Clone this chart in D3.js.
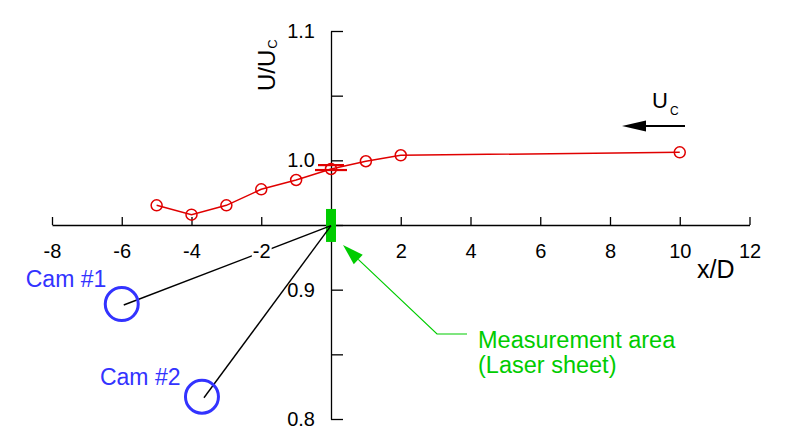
<!DOCTYPE html>
<html><head><meta charset="utf-8">
<script src="https://cdn.jsdelivr.net/npm/d3@7"></script>
<style>
body{margin:0;background:#fff;}
svg{display:block;font-family:"Liberation Sans",Arial,sans-serif;}
</style></head>
<body>
<svg id="c" width="788" height="446"></svg>
<script>
// ---- data ----
const xPositions = [-5, -4, -3, -2, -1, 0, 1, 2, 10];
const velocityRatio = [0.9652, 0.9580, 0.9652, 0.9776, 0.9848, 0.9933, 0.9993, 1.0039, 1.0062];
const errorBarX = [0];
const errorBarLow = [0.9925];
const errorBarHigh = [0.9963];
const xTickValues = [-8, -6, -4, -2, 0, 2, 4, 6, 8, 10, 12];
const xTickLabels = ["-8", "-6", "-4", "-2", "", "2", "4", "6", "8", "10", "12"];
const yTickValues = [0.8, 0.85, 0.9, 0.95, 1.0, 1.05, 1.1];
const yTickLabels = ["0.8", "", "0.9", "", "1.0", "", "1.1"];
const cameraNames = ["Cam #1", "Cam #2"];
const cameraX = [-6.0, -3.7];
const cameraY = [0.8889, 0.8172];
const focusX = [0];
const focusY = [0.9495];
const sheetX = [-0.143, 0.143];
const sheetY = [0.9369, 0.9624];
const annotationLines = ["Measurement area", "(Laser sheet)"];

// ---- setup ----
const svg = d3.select("#c");
const x = d3.scaleLinear().domain([-8, 12]).range([52, 749.5]);
const y = d3.scaleLinear().domain([0.8, 1.1]).range([419, 31]);
const RED = "#e00000", BLUE = "#3333ff", GREEN = "#00cc00";
const FONT = "Liberation Sans, Arial, sans-serif";
const axisY0 = y(0.95);

// x axis ticks (upward) and line
const xAxis = svg.append("g").attr("transform", `translate(0,${axisY0})`)
  .call(d3.axisBottom(x).tickValues(xTickValues).tickSizeInner(-8).tickSizeOuter(0).tickFormat(""));
xAxis.select(".domain").attr("stroke", "#000").attr("stroke-width", 1.3);
xAxis.selectAll(".tick line").attr("stroke", "#000").attr("stroke-width", 1.3);

// y axis ticks (rightward) and line
const yAxis = svg.append("g").attr("transform", `translate(${x(0)},0)`)
  .call(d3.axisLeft(y).tickValues(yTickValues).tickSizeInner(-12).tickSizeOuter(0).tickFormat(""));
yAxis.select(".domain").attr("stroke", "#000").attr("stroke-width", 1.3);
yAxis.selectAll(".tick line").attr("stroke", "#000").attr("stroke-width", 1.3);

// green measurement area
svg.append("rect")
  .attr("x", x(sheetX[0])).attr("y", y(sheetY[1]))
  .attr("width", x(sheetX[1]) - x(sheetX[0])).attr("height", y(sheetY[0]) - y(sheetY[1]))
  .attr("fill", GREEN);

// camera lines and circles
cameraNames.forEach((name, i) => {
  const cx = x(cameraX[i]), cy = y(cameraY[i]);
  svg.append("line").attr("x1", cx + 2).attr("y1", cy + 1)
    .attr("x2", x(focusX[0])).attr("y2", y(focusY[0]))
    .attr("stroke", "#000").attr("stroke-width", 1.4);
  svg.append("circle").attr("cx", cx).attr("cy", cy).attr("r", 16.5)
    .attr("fill", "none").attr("stroke", BLUE).attr("stroke-width", 3);
});
svg.append("text").attr("x", x(cameraX[0]) - 96).attr("y", y(cameraY[0]) - 17)
  .attr("fill", BLUE).attr("font-size", 23).text(cameraNames[0]);
svg.append("text").attr("x", x(cameraX[1]) - 102).attr("y", y(cameraY[1]) - 12)
  .attr("fill", BLUE).attr("font-size", 23).text(cameraNames[1]);

// x tick labels with white background (on top of camera lines)
const xLab = svg.append("g").attr("transform", `translate(0,${axisY0})`)
  .call(d3.axisBottom(x).tickValues(xTickValues).tickSize(0).tickPadding(19)
    .tickFormat((d, i) => xTickLabels[i]));
xLab.select(".domain").remove();
xLab.selectAll("text").attr("font-size", 20).attr("font-family", FONT).attr("fill", "#000");
xLab.selectAll(".tick").each(function(d, i) {
  if (!xTickLabels[i]) return;
  const t = d3.select(this).select("text").node();
  const b = t.getBBox();
  d3.select(this).insert("rect", "text").attr("x", b.x - 1).attr("y", b.y + 2)
    .attr("width", b.width + 2).attr("height", b.height - 4).attr("fill", "#fff");
});

// y tick labels
const yLab = svg.append("g").attr("transform", `translate(${x(0)},0)`)
  .call(d3.axisLeft(y).tickValues(yTickValues).tickSize(0).tickPadding(16)
    .tickFormat((d, i) => yTickLabels[i]));
yLab.select(".domain").remove();
yLab.selectAll("text").attr("font-size", 20).attr("font-family", FONT).attr("fill", "#000");

// axis titles
const yt = svg.append("text").attr("transform", "translate(275,91) rotate(-90)")
  .attr("font-size", 24).attr("fill", "#000");
yt.append("tspan").text("U/U");
yt.append("tspan").attr("font-size", 13).attr("dy", 2).attr("dx", 1).text("C");
svg.append("text").attr("x", 697).attr("y", 278).attr("font-size", 25).attr("fill", "#000").text("x/D");

// data line
const line = d3.line().x((d, i) => x(xPositions[i])).y(d => y(d));
svg.append("path").datum(velocityRatio).attr("d", line)
  .attr("fill", "none").attr("stroke", RED).attr("stroke-width", 1.5);

// error bar caps
errorBarX.forEach((ex, i) => {
  [[errorBarHigh[i], 13], [errorBarLow[i], 16]].forEach(([v, hw]) => {
    svg.append("line").attr("x1", x(ex) - hw).attr("x2", x(ex) + hw)
      .attr("y1", y(v)).attr("y2", y(v)).attr("stroke", RED).attr("stroke-width", 2.2);
  });
});

// markers
svg.append("g").selectAll("circle").data(velocityRatio).join("circle")
  .attr("cx", (d, i) => x(xPositions[i])).attr("cy", d => y(d)).attr("r", 5.5)
  .attr("fill", "none").attr("stroke", RED).attr("stroke-width", 1.5);

// U_C flow direction arrow
svg.append("line").attr("x1", 685).attr("y1", 126).attr("x2", 640).attr("y2", 126)
  .attr("stroke", "#000").attr("stroke-width", 2);
svg.append("path").attr("d", "M622,126 L646,120.5 L646,131.5 Z").attr("fill", "#000");
const ut = svg.append("text").attr("x", 652).attr("y", 108).attr("font-size", 22).attr("fill", "#000");
ut.append("tspan").text("U");
ut.append("tspan").attr("font-size", 12).attr("dy", 7).attr("dx", 2).text("C");

// measurement area annotation
const tip = [343, 245], elbow = [437, 334], endP = [467, 334];
const ang = Math.atan2(tip[1] - elbow[1], tip[0] - elbow[0]);
const hl = 21, hw = 6.5;
const bx = tip[0] - hl * Math.cos(ang), by = tip[1] - hl * Math.sin(ang);
svg.append("path").attr("d", `M${bx},${by} L${elbow[0]},${elbow[1]} L${endP[0]},${endP[1]}`)
  .attr("fill", "none").attr("stroke", GREEN).attr("stroke-width", 1.2);
svg.append("path").attr("d",
  `M${tip[0]},${tip[1]} L${bx + hw * Math.sin(ang)},${by - hw * Math.cos(ang)} L${bx - hw * Math.sin(ang)},${by + hw * Math.cos(ang)} Z`)
  .attr("fill", GREEN);
svg.append("text").attr("x", 478).attr("y", 348).attr("font-size", 23.5).attr("fill", GREEN).text(annotationLines[0]);
svg.append("text").attr("x", 478).attr("y", 373).attr("font-size", 23.5).attr("fill", GREEN).text(annotationLines[1]);
</script>
</body></html>
